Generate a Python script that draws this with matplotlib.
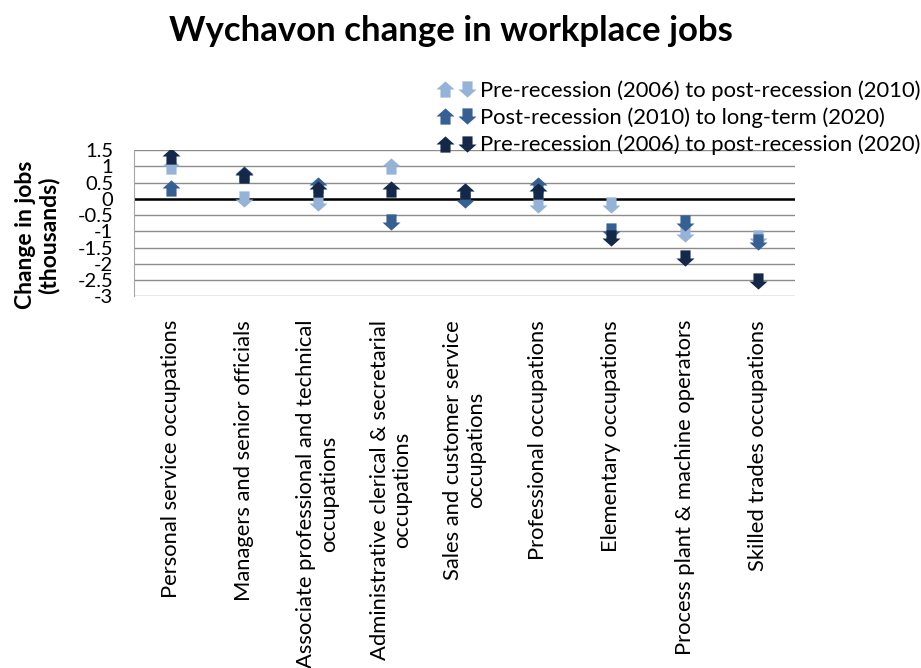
import numpy as np
import matplotlib
matplotlib.use("Agg")
import matplotlib.pyplot as plt
from matplotlib.path import Path
from matplotlib.lines import Line2D
from matplotlib.legend_handler import HandlerTuple

plt.rcParams['font.family'] = ['Lato', 'DejaVu Sans']

categories = [
    "Personal service occupations",
    "Managers and senior officials",
    "Associate professional and technical\noccupations",
    "Administrative clerical & secretarial\noccupations",
    "Sales and customer service\noccupations",
    "Professional occupations",
    "Elementary occupations",
    "Process plant & machine operators",
    "Skilled trades occupations",
]

series_names = [
    "Pre-recession (2006) to post-recession (2010)",
    "Post-recession (2010) to long-term (2020)",
    "Pre-recession (2006) to post-recession (2020)",
]
change_2006_2010 = [1.02, -0.02, -0.12, 1.02, 0.25, -0.19, -0.20, -1.07, -1.22]
change_2010_2020 = [0.32, 0.75, 0.42, -0.72, -0.04, 0.42, -1.00, -0.73, -1.32]
change_2006_2020 = [1.33, 0.73, 0.31, 0.30, 0.23, 0.23, -1.22, -1.83, -2.54]
colors = ["#95B3D7", "#376092", "#14294A"]

yticks = [1.5, 1, 0.5, 0, -0.5, -1, -1.5, -2, -2.5, -3]

FS = 15.8

# block arrow marker, pointing up
up_verts = [(-0.28, -0.45), (0.28, -0.45), (0.28, 0.0), (0.5, 0.0),
            (0.0, 0.45), (-0.5, 0.0), (-0.28, 0.0), (-0.28, -0.45)]
up_codes = [Path.MOVETO] + [Path.LINETO] * 6 + [Path.CLOSEPOLY]
up_arrow = Path(up_verts, up_codes)
down_arrow = Path([(x, -y) for x, y in up_verts], up_codes)

fig = plt.figure(figsize=(9.21, 6.68), dpi=100)
ax = fig.add_axes([0.1455, 0.5564, 0.7177, 0.219])

x = np.arange(len(categories))
all_series = [change_2006_2010, change_2010_2020, change_2006_2020]
handles = []
for vals, col in zip(all_series, colors):
    vals = np.array(vals)
    up = vals >= 0
    ax.plot(x[up], vals[up], ls='none', marker=up_arrow, markersize=13,
            color=col, markeredgewidth=0, zorder=3)
    ax.plot(x[~up], vals[~up], ls='none', marker=down_arrow, markersize=13,
            color=col, markeredgewidth=0, zorder=3)
    h_up = Line2D([], [], ls='none', marker=up_arrow, markersize=13,
                  color=col, markeredgewidth=0)
    h_dn = Line2D([], [], ls='none', marker=down_arrow, markersize=13,
                  color=col, markeredgewidth=0)
    handles.append((h_up, h_dn))

ax.set_xlim(-0.5, len(categories) - 0.5)
ax.set_ylim(-3, 1.5)
ax.set_yticks(yticks)
ax.set_yticklabels([f"{t:g}" for t in yticks], fontsize=14.5)
ax.yaxis.grid(True, color="#8c8c8c", lw=1)
ax.set_axisbelow(True)
ax.axhline(0, color="black", lw=1.8, zorder=2)
for s in ['top', 'right', 'bottom']:
    ax.spines[s].set_visible(False)
ax.spines['left'].set_color("#a6a6a6")
ax.tick_params(axis='both', length=0)
ax.tick_params(axis='y', pad=15)

ax.set_xticks(x)
ax.set_xticklabels(categories, rotation=90, fontsize=FS, ha='center',
                   va='top', multialignment='center', linespacing=1.15)
ax.tick_params(axis='x', pad=17)

ax.set_ylabel("Change in jobs\n(thousands)", fontsize=16.5, fontweight='bold',
              linespacing=1.1)
ax.yaxis.set_label_coords(-0.112, 0.42)

fig.suptitle("Wychavon change in workplace jobs", fontsize=25,
             fontweight='bold', x=0.490, y=0.978)

fig.legend(handles, series_names, handler_map={tuple: HandlerTuple(ndivide=None, pad=0)},
           loc='upper left', bbox_to_anchor=(0.462, 0.893), frameon=False,
           fontsize=FS, handlelength=2.0, handletextpad=0.1,
           labelspacing=0.3, borderaxespad=0)

fig.savefig("out.png", dpi=100)
